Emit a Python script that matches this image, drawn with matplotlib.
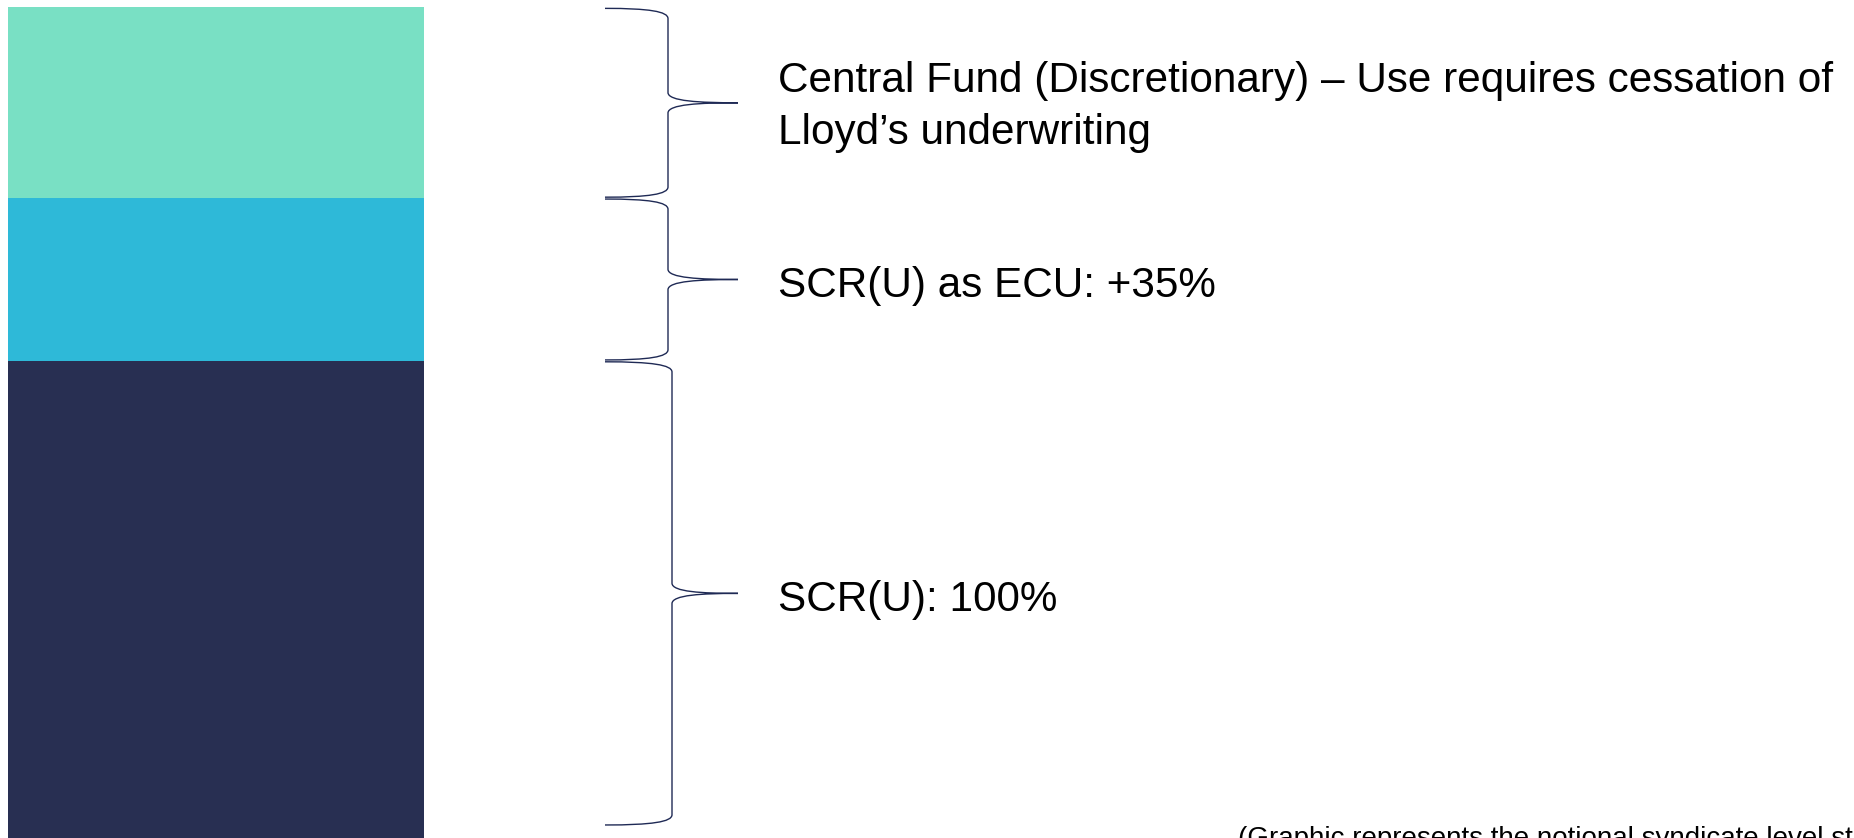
import numpy as np
import matplotlib
matplotlib.use("Agg")
import matplotlib.pyplot as plt
from matplotlib.path import Path
from matplotlib.patches import PathPatch
from matplotlib.transforms import offset_copy

plt.rcParams["font.family"] = ["Liberation Sans", "DejaVu Sans"]

# Layers of the stacked capital bar (bottom to top), in % of SCR(U)
layer_names = ["SCR(U)", "SCR(U) as ECU", "Central Fund"]
layer_values = [100, 35, 41]
layer_colors = ["#282F52", "#2EB9D8", "#79E0C4"]
layer_labels = [
    ["SCR(U): 100%"],
    ["SCR(U) as ECU: +35%"],
    ["Central Fund (Discretionary) \u2013 Use requires cessation of", "Lloyd\u2019s underwriting"],
]
footnote = "(Graphic represents the notional syndicate level structure)"

BRACE_COLOR = "#1F2A55"
Y_MIN, Y_MAX = -2.6, 177.6


def brace_path(y0, y1, x_end=605, x_v=669, x_tip=738, r=2.2):
    # curly brace opening to the left, tip pointing right at mid height
    ym = (y0 + y1) / 2
    verts = [
        (x_end, y1),
        (x_end + 0.7 * (x_v - x_end), y1), (x_v, y1 - 0.3 * r), (x_v, y1 - r),
        (x_v, ym + r),
        (x_v, ym + 0.15 * r), (x_v + 0.45 * (x_tip - x_v), ym), (x_tip, ym),
        (x_v + 0.45 * (x_tip - x_v), ym), (x_v, ym - 0.15 * r), (x_v, ym - r),
        (x_v, y0 + r),
        (x_v, y0 + 0.3 * r), (x_end + 0.7 * (x_v - x_end), y0), (x_end, y0),
    ]
    codes = [Path.MOVETO] + [Path.CURVE4] * 3 + [Path.LINETO] + [Path.CURVE4] * 6 \
        + [Path.LINETO] + [Path.CURVE4] * 3
    return Path(verts, codes)


fig = plt.figure(figsize=(18.54, 8.38), dpi=100)
ax = fig.add_axes([0, 0, 1, 1])
ax.set_xlim(0, 1854)
ax.set_ylim(Y_MIN, Y_MAX)
ax.axis("off")

tops = np.cumsum(layer_values)
bottoms = tops - np.array(layer_values)

for i, (b, t) in enumerate(zip(bottoms, tops)):
    # the bottom layer runs off the bottom of the slide
    base = Y_MIN if i == 0 else b
    ax.bar(216, t - base, bottom=base, width=416, color=layer_colors[i], linewidth=0)

    gap = 0.2
    x_v = 672 if i == 0 else 668
    ax.add_patch(PathPatch(brace_path(b + gap, t - gap, x_v=x_v), facecolor="none",
                           edgecolor=BRACE_COLOR, linewidth=1.0))

    ym = (b + t) / 2
    lines = layer_labels[i]
    # first baseline sits below the tip for one line, above it for two
    first_off = -12.5 if len(lines) == 1 else 7.5
    for j, line in enumerate(lines):
        tr = offset_copy(ax.transData, fig=fig, x=0, y=first_off - 37 * j, units="points")
        ax.text(778, ym, line, transform=tr, fontsize=30.4, color="black",
                ha="left", va="baseline")

fig.text(1238 / 1854, 1 - 846 / 838, footnote, fontsize=20, color="black",
         ha="left", va="baseline")

plt.savefig("out.png", dpi=100)
